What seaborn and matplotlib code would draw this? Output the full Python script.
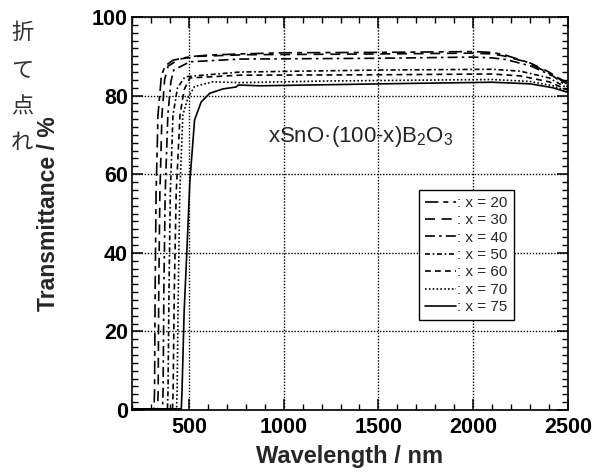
import matplotlib
matplotlib.use("Agg")
import matplotlib.pyplot as plt
from matplotlib.ticker import MultipleLocator
import seaborn as sns
import pandas as pd

# ---- data ----
labels = [": x = 20", ": x = 30", ": x = 40", ": x = 50", ": x = 60", ": x = 70", ": x = 75"]

wl_20 = [200, 316, 319, 322, 327, 337, 355, 374, 416, 505, 600, 770, 1000, 1500, 2000, 2100, 2170, 2280, 2350, 2420, 2490, 2500]
t_20 = [0.3, 0.3, 5, 30, 55, 75, 85, 87.5, 89.0, 89.9, 90.3, 90.6, 90.9, 91.0, 91.2, 91.0, 90.3, 88.6, 86.9, 85.2, 83.5, 83.2]

wl_30 = [200, 335, 338, 341, 347, 358, 372, 390, 450, 550, 800, 1500, 2000, 2100, 2160, 2300, 2400, 2500]
t_30 = [0.3, 0.3, 5, 30, 55, 75, 84, 87.5, 89.3, 90.0, 90.4, 90.6, 90.8, 90.6, 90.1, 88.3, 86.0, 82.7]

wl_40 = [200, 361, 364, 368, 375, 389, 405, 420, 505, 770, 1500, 2000, 2100, 2170, 2300, 2420, 2500]
t_40 = [0.3, 0.3, 5, 30, 55, 75, 83.5, 86.5, 88.6, 89.3, 89.5, 89.8, 89.6, 89.2, 87.6, 85.0, 82.2]

wl_50 = [200, 387, 390, 395, 402, 416, 440, 480, 770, 1500, 2100, 2250, 2400, 2500]
t_50 = [0.3, 0.3, 5, 30, 55, 75, 82.0, 84.8, 86.0, 86.5, 86.7, 86.2, 84.5, 81.8]

wl_60 = [200, 414, 417, 423, 433, 453, 475, 505, 770, 1500, 2100, 2250, 2400, 2500]
t_60 = [0.3, 0.3, 5, 30, 55, 75, 81.5, 84.5, 85.2, 85.3, 85.5, 85.0, 83.5, 81.4]

wl_70 = [200, 435, 438, 444, 452, 468, 495, 530, 625, 770, 1200, 2100, 2300, 2420, 2500]
t_70 = [0.3, 0.3, 5, 30, 55, 75, 79.5, 82.3, 83.5, 83.3, 83.7, 84.1, 83.6, 82.5, 81.0]

wl_75 = [200, 460, 464, 475, 489, 505, 530, 565, 610, 680, 750, 760, 874, 1660, 2100, 2300, 2420, 2500]
t_75 = [0.3, 0.3, 5, 25, 40, 58, 73.8, 78.4, 80.6, 81.7, 82.2, 82.7, 82.5, 83.1, 83.4, 83.0, 82.0, 80.8]

series_wl = [wl_20, wl_30, wl_40, wl_50, wl_60, wl_70, wl_75]
series_t = [t_20, t_30, t_40, t_50, t_60, t_70, t_75]

xticks = [500, 1000, 1500, 2000, 2500]
yticks = [0, 20, 40, 60, 80, 100]

# ---- build long table ----
rows = []
for lab, wls, ts in zip(labels, series_wl, series_t):
    for i, (w, t) in enumerate(zip(wls, ts)):
        rows.append({"wl": w, "T": t, "series": lab, "order": i})
df = pd.DataFrame(rows)

dash_map = {
    ": x = 20": (8, 3, 3, 3),
    ": x = 30": (6, 4),
    ": x = 40": (6, 2.5, 1.5, 2.5),
    ": x = 50": (3, 1.6, 1, 1.6),
    ": x = 60": (3.5, 2.5),
    ": x = 70": (1, 1.3),
    ": x = 75": "",
}

sns.set_style("ticks")
plt.rcParams["font.family"] = ["Liberation Sans", "DejaVu Sans"]
plt.rcParams["mathtext.fontset"] = "custom"
plt.rcParams["mathtext.rm"] = "Liberation Sans"
plt.rcParams["mathtext.it"] = "Liberation Sans:italic"

fig = plt.figure(figsize=(5.93, 4.75), dpi=100)
ax = fig.add_axes([0.2226, 0.1368, 0.7353, 0.8274])

sns.lineplot(data=df, x="wl", y="T", style="series", style_order=labels,
             dashes=dash_map, color="black", linewidth=1.2, sort=False,
             estimator=None, units="series", ax=ax, legend=True)

ax.set_xlim(200, 2500)
ax.set_ylim(0, 100)
ax.xaxis.set_minor_locator(MultipleLocator(100))
ax.yaxis.set_minor_locator(MultipleLocator(2))
ax.set_xticks(xticks)
ax.set_yticks(yticks)
ax.tick_params(which="both", direction="in", top=True, right=True, colors="black")
ax.tick_params(which="major", length=8, width=1.1, labelsize=15.5)
ax.tick_params(axis="y", which="major", pad=3)
ax.tick_params(axis="x", which="major", pad=5)
ax.tick_params(which="minor", length=4.5, width=1.0)
for lab in ax.get_xticklabels() + ax.get_yticklabels():
    lab.set_fontweight("bold")
for sp in ax.spines.values():
    sp.set_linewidth(1.2)
    sp.set_color("black")

ax.grid(True, which="major", linestyle=(0, (1, 1.2)), color="black", linewidth=1.0)

ax.set_xlabel("Wavelength / nm", fontsize=17, fontweight="bold")
ax.set_ylabel("Transmittance / %", fontsize=16.6, fontweight="bold")
ax.xaxis.set_label_coords(0.5, -0.088)
ax.yaxis.set_label_coords(-0.165, 0.5)

ax.text(920, 69.5, "xSnO·(100-x)B$_2$O$_3$", fontsize=16, ha="left", va="center")

handles, hlabels = ax.get_legend_handles_labels()
leg = ax.legend(handles, hlabels, loc="upper left", bbox_to_anchor=(0.658, 0.56),
                borderaxespad=0, fontsize=11, handlelength=2.0, handletextpad=0.1,
                labelspacing=0.22, frameon=True, fancybox=False, framealpha=1,
                edgecolor="black", borderpad=0.4)
leg.get_frame().set_linewidth(1.0)

# remnant page text at the left edge
for ch, yp in zip(["折", "て", "点", "れ"], [32, 70, 107, 143]):
    fig.text(11 / 593, 1 - yp / 475, ch, fontsize=16, color="#333333",
             family=["Noto Sans CJK JP", "DejaVu Sans"], ha="left", va="center")

fig.savefig("out.png", dpi=100)
